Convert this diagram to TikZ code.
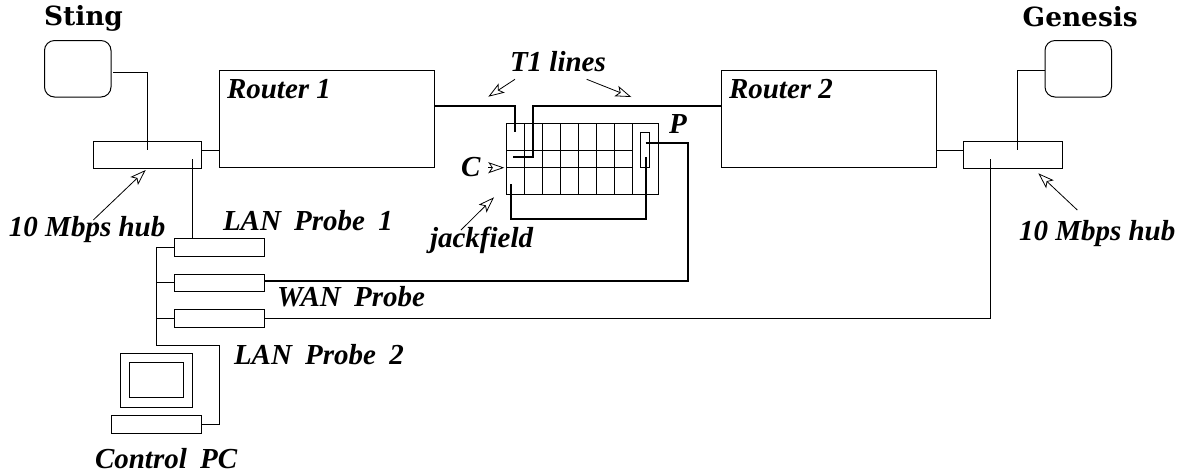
\documentclass[tikz,border=0pt]{standalone}
\usepackage{fontspec}
\setmainfont{Liberation Serif}
\newfontfamily\hostfont{DejaVu Serif}
\usetikzlibrary{calc}
\usetikzlibrary{arrows.meta}

\newcommand{\gapsp}{\hspace{6.6pt}}

\tikzset{
    boxnode/.style={draw,line width=0.5pt,inner sep=0pt,outer sep=0pt},
    labelnode/.style={anchor=base west,inner sep=0pt,outer sep=0pt,font=\fontsize{14.5}{16}\selectfont\bfseries\itshape},
    hostnode/.style={anchor=base west,inner sep=0pt,outer sep=0pt,font=\fontsize{13.2}{15}\selectfont\hostfont\bfseries},
    wire/.style={line width=0.5pt},
    thickwire/.style={line width=0.9pt},
    pointer/.style={line width=0.4pt,-{Stealth[open,length=8pt,width=5.5pt,inset=1.8pt]}},
}

\begin{document}
\begin{tikzpicture}[x=0.5pt,y=-0.5pt]
\useasboundingbox (0,0) rectangle (1178,473);

% Hosts
\node[boxnode,rounded corners=5pt,minimum width=33.25pt,minimum height=28.25pt] (termA) at (77.75,68.75) {};
\node[boxnode,rounded corners=5pt,minimum width=33.25pt,minimum height=28.25pt] (termB) at (1078.25,68.75) {};

% Hubs and routers
\node[boxnode,minimum width=53.75pt,minimum height=13.25pt] (hubA) at (147.25,154.75) {};
\node[boxnode,minimum width=49.5pt,minimum height=13.25pt] (hubB) at (1012.75,154.75) {};
\node[boxnode,minimum width=107.75pt,minimum height=48.5pt] (routerA) at (326.75,119) {};
\node[boxnode,minimum width=107.5pt,minimum height=48.5pt] (routerB) at (828.75,119) {};

% Probes
\node[boxnode,minimum width=45pt,minimum height=8.75pt] (probeA) at (219,247.25) {};
\node[boxnode,minimum width=45pt,minimum height=8.75pt] (probeW) at (219,282.75) {};
\node[boxnode,minimum width=45pt,minimum height=8.75pt] (probeB) at (219,318.25) {};

% Control PC
\node[boxnode,minimum width=36pt,minimum height=26.75pt] (monitor) at (156.3,380.35) {};
\node[boxnode,minimum width=27pt,minimum height=17.75pt] (screen) at (156.3,380.15) {};
\node[boxnode,minimum width=45pt,minimum height=8.75pt] (keyboard) at (156.3,424.5) {};

% Jackfield
\node[boxnode,minimum width=76.35pt,minimum height=35.5pt] (jack) at (582.35,158.8) {};
\foreach \x in {524,542,560,578,596,614,632} {
    \draw[wire] (\x,123.3) -- (\x,194.3);
}
\draw[wire] (506,150) -- (632,150);
\draw[wire] (506,167.7) -- (632,167.7);
\node[boxnode,minimum width=4.7pt,minimum height=17.7pt] (patch) at (645,150) {};

% Wire end points
\coordinate (hubAtop) at (147,150);
\coordinate (hubAlow) at (192,159);
\coordinate (hubBtop) at (1017,150);
\coordinate (hubBlow) at (990.3,159);
\coordinate (jackA) at (515.3,132.3);
\coordinate (jackB) at (513,157);
\coordinate (jackC) at (511.3,184);
\coordinate (jackD) at (646,157);
\coordinate (jackP) at (645.7,143);

% Thin wires
\draw[wire] (termA.east |- 0,72) ++(2,0) -- ++(34,0) -- (hubAtop);
\draw[wire] (termB.west |- 0,70.5) -- (hubBtop |- 0,70.5) -- (hubBtop);
\draw[wire] (hubA.east |- 0,150) -- (routerA.west |- 0,150);
\draw[wire] (routerB.east |- 0,150) -- (hubB.west |- 0,150);
\draw[wire] (hubAlow) -- (hubAlow |- probeA.north);
\draw[wire] (probeA.west) -- (156.3,247.25) -- (156.3,345) -- (219,345) -- (219,424.5) -- (keyboard.east);
\draw[wire] (156.3,282.75) -- (probeW.west);
\draw[wire] (156.3,318.25) -- (probeB.west);
\draw[wire] (probeB.east) -- (hubBlow |- probeB.east) -- (hubBlow);

% Thick wires
\draw[thickwire] (routerA.east |- 0,105.7) -| (jackA);
\draw[thickwire] (routerB.west |- 0,105.7) -| (533,157) -- (jackB);
\draw[thickwire] (jackC) |- (jackD |- 0,219.3) -- (jackD);
\draw[thickwire] (jackP) -- (688.3,143) -- (688.3,281) -- (probeW.east |- 0,281);

% Labels
\node[hostnode] (stinglabel) at (44,25) {Sting};
\node[hostnode] (genesislabel) at (1022.7,26) {Genesis};
\node[labelnode] (routerAlabel) at (227,98) {Router 1};
\node[labelnode] (routerBlabel) at (729,98) {Router 2};
\node[labelnode] (t1label) at (510,71) {T1 lines};
\node[labelnode] (clabel) at (461,176.7) {C};
\node[labelnode] (plabel) at (669,133) {P};
\node[labelnode] (jacklabel) at (430,247) {jackfield};
\node[labelnode] (hubAlabel) at (9,236) {10 Mbps hub};
\node[labelnode] (hubBlabel) at (1019,240.7) {10 Mbps hub};
\node[labelnode] (probeAlabel) at (223,230) {LAN\gapsp Probe\gapsp 1};
\node[labelnode] (probeWlabel) at (277,306) {WAN\gapsp Probe};
\node[labelnode] (probeBlabel) at (234,364) {LAN\gapsp Probe\gapsp 2};
\node[labelnode] (pclabel) at (95,468) {Control\gapsp PC};

% Pointers
\coordinate (t1left) at (488.3,96.7);
\coordinate (t1right) at (631.3,97);
\draw[pointer] (515,79.3) -- (t1left);
\draw[pointer] (586.7,79.3) -- (t1right);
\draw[pointer] (488.3,167.7) -- (504.3,167.7);
\draw[pointer] (461,230) -- (494,197.3);
\draw[pointer] (93.3,220) -- (145.7,170);
\draw[pointer] (1077.3,210) -- (1038.3,173.3);

\end{tikzpicture}
\end{document}
